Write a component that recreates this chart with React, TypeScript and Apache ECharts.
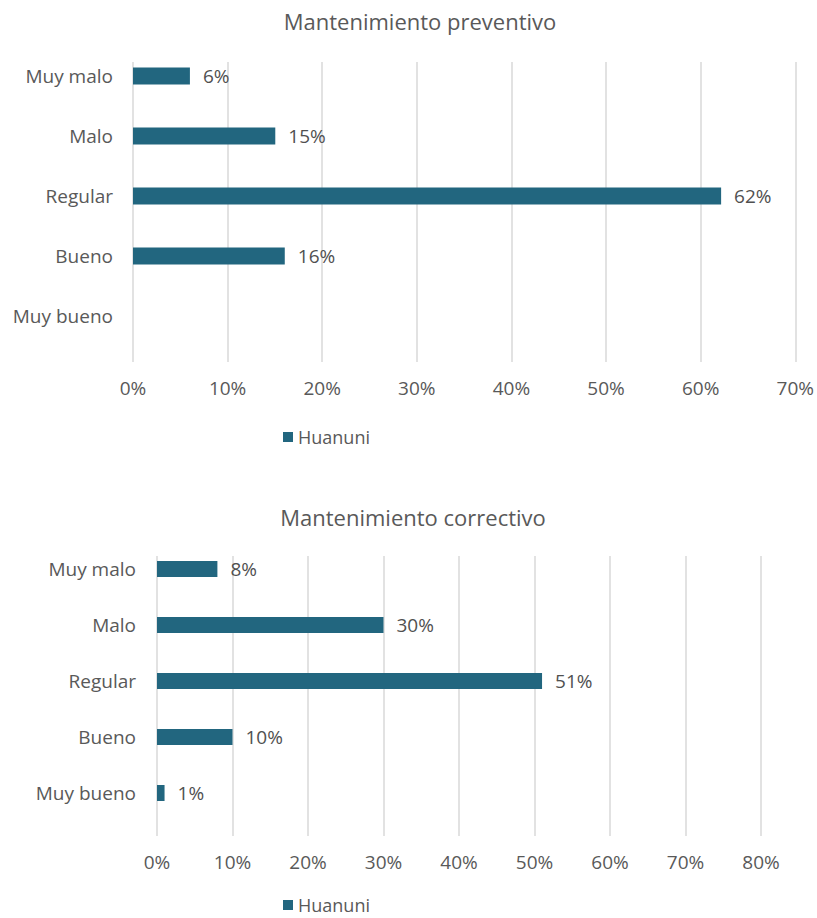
import React, { useEffect, useRef } from "react";
import * as echarts from "echarts";

const categories = ["Muy malo", "Malo", "Regular", "Bueno", "Muy bueno"];
const preventivoValues = [6, 15, 62, 16, 0];
const correctivoValues = [8, 30, 51, 10, 1];
const seriesName = "Huanuni";
const title1 = "Mantenimiento preventivo";
const title2 = "Mantenimiento correctivo";

const BAR_COLOR = "#22667f";
const GRID_COLOR = "#d9d9d9";
const AXIS_TEXT = "#595959";
const FONT = "'Open Sans', 'Noto Sans', sans-serif";

export default function App() {
  const ref = useRef<HTMLDivElement>(null);
  useEffect(() => {
    if (!ref.current) return;
    const chart = echarts.init(ref.current, undefined, { renderer: "svg" });

    // hidden value axes that scale the bars
    const barXAxis = (gridIndex: number, max: number) => ({
      type: "value" as const,
      gridIndex,
      min: 0,
      max,
      interval: 10,
      show: false,
    });
    // visible axes carrying gridlines and tick labels (offset band like the original)
    const gridXAxis = (gridIndex: number, max: number) => ({
      type: "value" as const,
      gridIndex,
      min: 0,
      max,
      interval: 10,
      axisLine: { show: false },
      axisTick: { show: false },
      splitLine: { show: true, lineStyle: { color: GRID_COLOR, width: 1.5 } },
      axisLabel: {
        formatter: "{value}%",
        color: AXIS_TEXT,
        fontSize: 19,
        fontFamily: FONT,
        margin: 16,
      },
    });
    const catYAxis = (gridIndex: number, margin: number) => ({
      type: "category" as const,
      gridIndex,
      data: categories,
      inverse: true,
      axisLine: { show: false },
      axisTick: { show: false },
      axisLabel: { color: AXIS_TEXT, fontSize: 19, fontFamily: FONT, margin },
    });
    const hiddenYAxis = (gridIndex: number) => ({
      type: "value" as const,
      gridIndex,
      show: false,
    });
    const barSeries = (idx: number, values: number[], width: number) => ({
      type: "bar" as const,
      name: seriesName,
      xAxisIndex: idx,
      yAxisIndex: idx,
      data: values,
      barWidth: width,
      z: 3,
      itemStyle: { color: BAR_COLOR },
      label: {
        show: true,
        position: "right" as const,
        distance: 13,
        color: "#505050",
        fontSize: 19,
        fontFamily: FONT,
        formatter: (p: any) => (p.value === 0 ? "" : p.value + "%"),
      },
    });

    chart.setOption({
      animation: false,
      backgroundColor: "#ffffff",
      graphic: [
        {
          type: "text",
          x: 420,
          y: 21,
          style: {
            text: title1,
            fill: AXIS_TEXT,
            fontSize: 22,
            fontFamily: FONT,
            align: "center",
            verticalAlign: "middle",
          },
        },
        {
          type: "text",
          x: 413,
          y: 517,
          style: {
            text: title2,
            fill: AXIS_TEXT,
            fontSize: 22,
            fontFamily: FONT,
            align: "center",
            verticalAlign: "middle",
          },
        },
      ],
      legend: [
        {
          data: [seriesName],
          left: 278,
          top: 423,
          icon: "rect",
          itemWidth: 10,
          itemHeight: 10,
          itemGap: 5,
          textStyle: { color: AXIS_TEXT, fontSize: 18, fontFamily: FONT },
        },
        {
          data: [seriesName],
          left: 278,
          top: 891,
          icon: "rect",
          itemWidth: 10,
          itemHeight: 10,
          textStyle: { color: AXIS_TEXT, fontSize: 18, fontFamily: FONT },
        },
      ],
      grid: [
        { left: 133, width: 664, top: 46, height: 300 },
        { left: 157, width: 604, top: 541, height: 280 },
        { left: 133, width: 664, top: 62, height: 300 },
        { left: 157, width: 604, top: 556, height: 280 },
      ],
      xAxis: [barXAxis(0, 70), barXAxis(1, 80), gridXAxis(2, 70), gridXAxis(3, 80)],
      yAxis: [catYAxis(0, 20), catYAxis(1, 21), hiddenYAxis(2), hiddenYAxis(3)],
      series: [barSeries(0, preventivoValues, 17), barSeries(1, correctivoValues, 16)],
    });
    return () => chart.dispose();
  }, []);
  return (
    <div
      ref={ref}
      style={{ position: "fixed", left: 0, top: 0, width: 817, height: 918 }}
    />
  );
}
